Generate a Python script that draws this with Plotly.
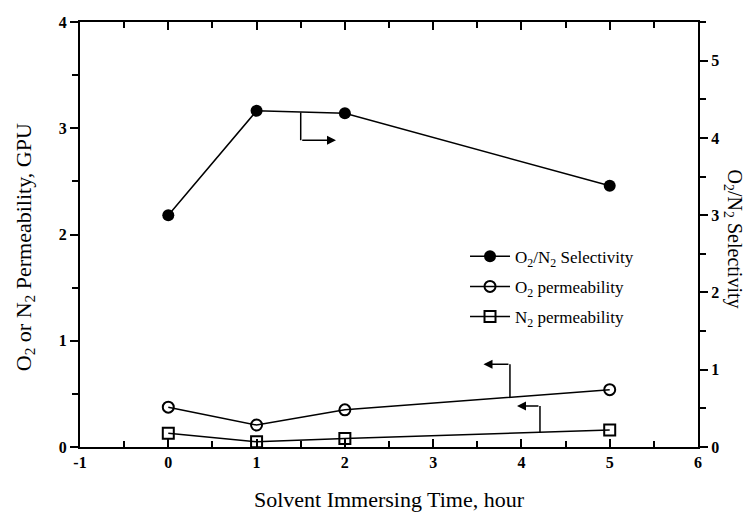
import plotly.graph_objects as go

time_h = [0, 1, 2, 5]
selectivity = [3.00, 4.35, 4.32, 3.38]
o2_perm = [0.375, 0.207, 0.35, 0.54]
n2_perm = [0.13, 0.05, 0.08, 0.16]

x_ticks = [-1, 0, 1, 2, 3, 4, 5, 6]
x_ticklabels = ["-1", "0", "1", "2", "3", "4", "5", "6"]
y_ticks = [0, 1, 2, 3, 4]
y2_ticks = [0, 1, 2, 3, 4, 5]

FONT = "Liberation Serif"
fig = go.Figure()

fig.add_trace(go.Scatter(
    x=time_h, y=selectivity, yaxis="y2", mode="lines+markers",
    name="O<sub>2</sub>/N<sub>2</sub> Selectivity", legendgroup="a",
    line=dict(color="black", width=1.5),
    marker=dict(symbol="circle", size=12, color="black")))
fig.add_trace(go.Scatter(
    x=time_h, y=o2_perm, mode="lines+markers",
    name="O<sub>2</sub> permeability", legendgroup="b",
    line=dict(color="black", width=1.5),
    marker=dict(symbol="circle-open", size=11, color="black", line=dict(width=2))))
fig.add_trace(go.Scatter(
    x=time_h, y=n2_perm, mode="lines+markers",
    name="N<sub>2</sub> permeability", legendgroup="c",
    line=dict(color="black", width=1.5),
    marker=dict(symbol="square-open", size=11, color="black", line=dict(width=2))))

# arrows: shapes (vertical stems) + annotations (arrowheads)
stems = [
    dict(x=1.50, y0=4.33, y1=3.97, yref="y2"),
    dict(x=3.87, y0=0.47, y1=0.78, yref="y"),
    dict(x=4.21, y0=0.14, y1=0.385, yref="y"),
]
for s in stems:
    fig.add_shape(type="line", xref="x", yref=s["yref"], x0=s["x"], x1=s["x"],
                  y0=s["y0"], y1=s["y1"], line=dict(color="black", width=1.5))
heads = [
    dict(x=1.90, y=3.97, ax=1.50, yref="y2"),
    dict(x=3.57, y=0.78, ax=3.87, yref="y"),
    dict(x=3.95, y=0.385, ax=4.21, yref="y"),
]
for h in heads:
    fig.add_annotation(x=h["x"], y=h["y"], ax=h["ax"], ay=h["y"], xref="x", yref=h["yref"],
                       axref="x", ayref=h["yref"], text="", showarrow=True,
                       arrowhead=2, arrowsize=1.2, arrowwidth=1.5, arrowcolor="black")

# axis titles
fig.add_annotation(text="O<sub>2</sub> or N<sub>2</sub> Permeability, GPU", xref="paper", yref="paper",
                   x=-0.089, y=0.47, xanchor="center", yanchor="middle",
                   showarrow=False, textangle=-90,
                   font=dict(family=FONT, size=22, color="black"))
fig.add_annotation(text="O<sub>2</sub>/N<sub>2</sub> Selectivity", xref="paper", yref="paper",
                   x=1.057, y=0.49, xanchor="center", yanchor="middle",
                   showarrow=False, textangle=90,
                   font=dict(family=FONT, size=20, color="black"))

tickfont = dict(family=FONT, size=16, color="black", weight="bold")
bold = lambda vals: ["<b>%s</b>" % v for v in vals]
fig.update_layout(
    width=744, height=508,
    margin=dict(l=72, r=54, t=14, b=69),
    paper_bgcolor="white", plot_bgcolor="white",
    font=dict(family=FONT, color="black"),
    xaxis=dict(range=[-1, 6], tickvals=x_ticks, ticktext=bold(x_ticklabels),
               showline=True, linecolor="black", linewidth=2, automargin=False,
               ticks="inside", ticklen=8, tickwidth=2, tickcolor="black", mirror="ticks",
               minor=dict(dtick=0.5, ticks="inside", ticklen=6, tickwidth=2, tickcolor="black"),
               showgrid=False, zeroline=False, tickfont=tickfont,
               title=dict(text="Solvent Immersing Time, hour", font=dict(family=FONT, size=22),
                          standoff=21)),
    yaxis=dict(range=[0, 4], tickvals=y_ticks, ticktext=bold(y_ticks), showline=True,
               linecolor="black", linewidth=2, automargin=False,
               ticks="outside", ticklen=8, tickwidth=2, tickcolor="black",
               minor=dict(dtick=0.5, ticks="outside", ticklen=6, tickwidth=2, tickcolor="black"),
               showgrid=False, zeroline=False, tickfont=tickfont),
    yaxis2=dict(range=[0, 5.5], tickvals=y2_ticks, ticktext=bold(y2_ticks), overlaying="y",
                side="right", showline=True, automargin=False,
                linecolor="black", linewidth=2, ticks="outside", ticklen=8, tickwidth=2,
                tickcolor="black",
                minor=dict(dtick=0.5, ticks="outside", ticklen=6, tickwidth=2, tickcolor="black"),
                showgrid=False, zeroline=False, tickfont=tickfont),
    legend=dict(x=0.623, y=0.49, xanchor="left", yanchor="top", bgcolor="rgba(0,0,0,0)",
                font=dict(family=FONT, size=17, color="black"), tracegroupgap=5,
                itemwidth=40),
    showlegend=True,
)
fig.write_html("out.html")
